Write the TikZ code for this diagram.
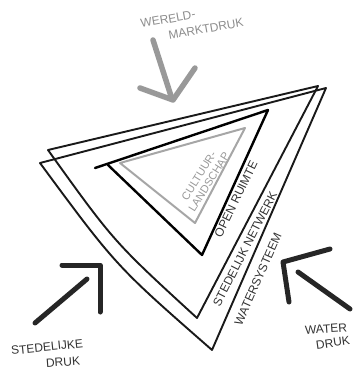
\documentclass[tikz,border=0pt]{standalone}
\usepackage{fontspec}
\newfontfamily\hand{Liberation Sans}
\begin{document}
\begin{tikzpicture}[x=1pt,y=-1pt,
  edge/.style={line width=1.9pt, draw=black!90, line cap=round, line join=round},
  openedge/.style={line width=2.4pt, draw=black, line cap=round, line join=round},
  cultedge/.style={line width=2pt, draw=black!35, line cap=round, line join=round},
  grayarrow/.style={line width=5.5pt, draw=black!40, line cap=round, line join=round},
  blackarrow/.style={line width=5pt, draw=black!85, line cap=round, line join=round},
  lbl/.style={font=\hand\fontsize{12}{13}\selectfont, text=black!80, inner sep=0pt, align=center},
]
\useasboundingbox (0,0) rectangle (355,371);

% triangle A (stedelijk netwerk)
\coordinate (a1) at (48,150);
\coordinate (a2) at (318,86);
\coordinate (a3) at (197,318);
\coordinate (ac) at (114,242);
% triangle B (watersysteem)
\coordinate (b1) at (40,163);
\coordinate (b2) at (326,88);
\coordinate (b3) at (212,350);
\coordinate (bc) at (116,266);

\draw[edge] (a1) -- (a2) -- (a3) .. controls (ac) .. (a1);
\draw[edge] (b1) -- (b2) -- (b3) .. controls (bc) .. (b1);

% open ruimte
\coordinate (o0) at (95,168);
\coordinate (o1) at (108,165);
\coordinate (o2) at (268,110);
\coordinate (o3) at (202,255);
\draw[openedge] (o0) -- (o2) -- (o3) -- (o1);

% cultuurlandschap
\coordinate (c1) at (120,163);
\coordinate (c2) at (245,128);
\coordinate (c3) at (195,223);
\draw[cultedge] (c1) -- (c2) -- (c3) -- cycle;

% labels in triangle
\node[lbl, text=black!40, font=\hand\fontsize{11}{12}\selectfont, rotate=58] (cult) at (204,179) {CULTUUR-\\LANDSCHAP};
\node[lbl, rotate=64] (open) at (236,199) {OPEN RUIMTE};
\node[lbl, rotate=63] (sted) at (245,249) {STEDELIJK NETWERK};
\node[lbl, rotate=66] (water) at (258,279) {WATERSYSTEEM};

% wereldmarktdruk
\node[lbl, text=black!45, rotate=10] (wereld) at (168,19) {WERELD-};
\node[lbl, text=black!45, rotate=10] (markt) at (206,29) {MARKTDRUK};
\coordinate (g0) at (153,40);
\coordinate (g1) at (171,96);
\coordinate (gl) at (140,88);
\coordinate (gh) at (173,100);
\coordinate (gr) at (195,68);
\draw[grayarrow] (g0) -- (g1);
\draw[grayarrow] (gl) -- (gh) -- (gr);

% stedelijke druk
\node[lbl, rotate=6] (stdr1) at (47,347) {STEDELIJKE};
\node[lbl, rotate=4] (stdr2) at (63,362) {DRUK};
\coordinate (l0) at (35,323);
\coordinate (l1) at (87,279);
\coordinate (ll) at (62,265);
\coordinate (lh) at (100,265);
\coordinate (lr) at (100,312);
\draw[blackarrow] (l0) -- (l1);
\draw[blackarrow] (ll) -- (lh) -- (lr);

% waterdruk
\node[lbl, rotate=4] (wd1) at (326,329) {WATER};
\node[lbl, rotate=8] (wd2) at (333,343) {DRUK};
\coordinate (r0) at (350,309);
\coordinate (r1) at (298,272);
\coordinate (rl) at (330,249);
\coordinate (rh) at (283,262);
\coordinate (rr) at (289,302);
\draw[blackarrow] (r0) -- (r1);
\draw[blackarrow] (rl) -- (rh) -- (rr);
\end{tikzpicture}
\end{document}
